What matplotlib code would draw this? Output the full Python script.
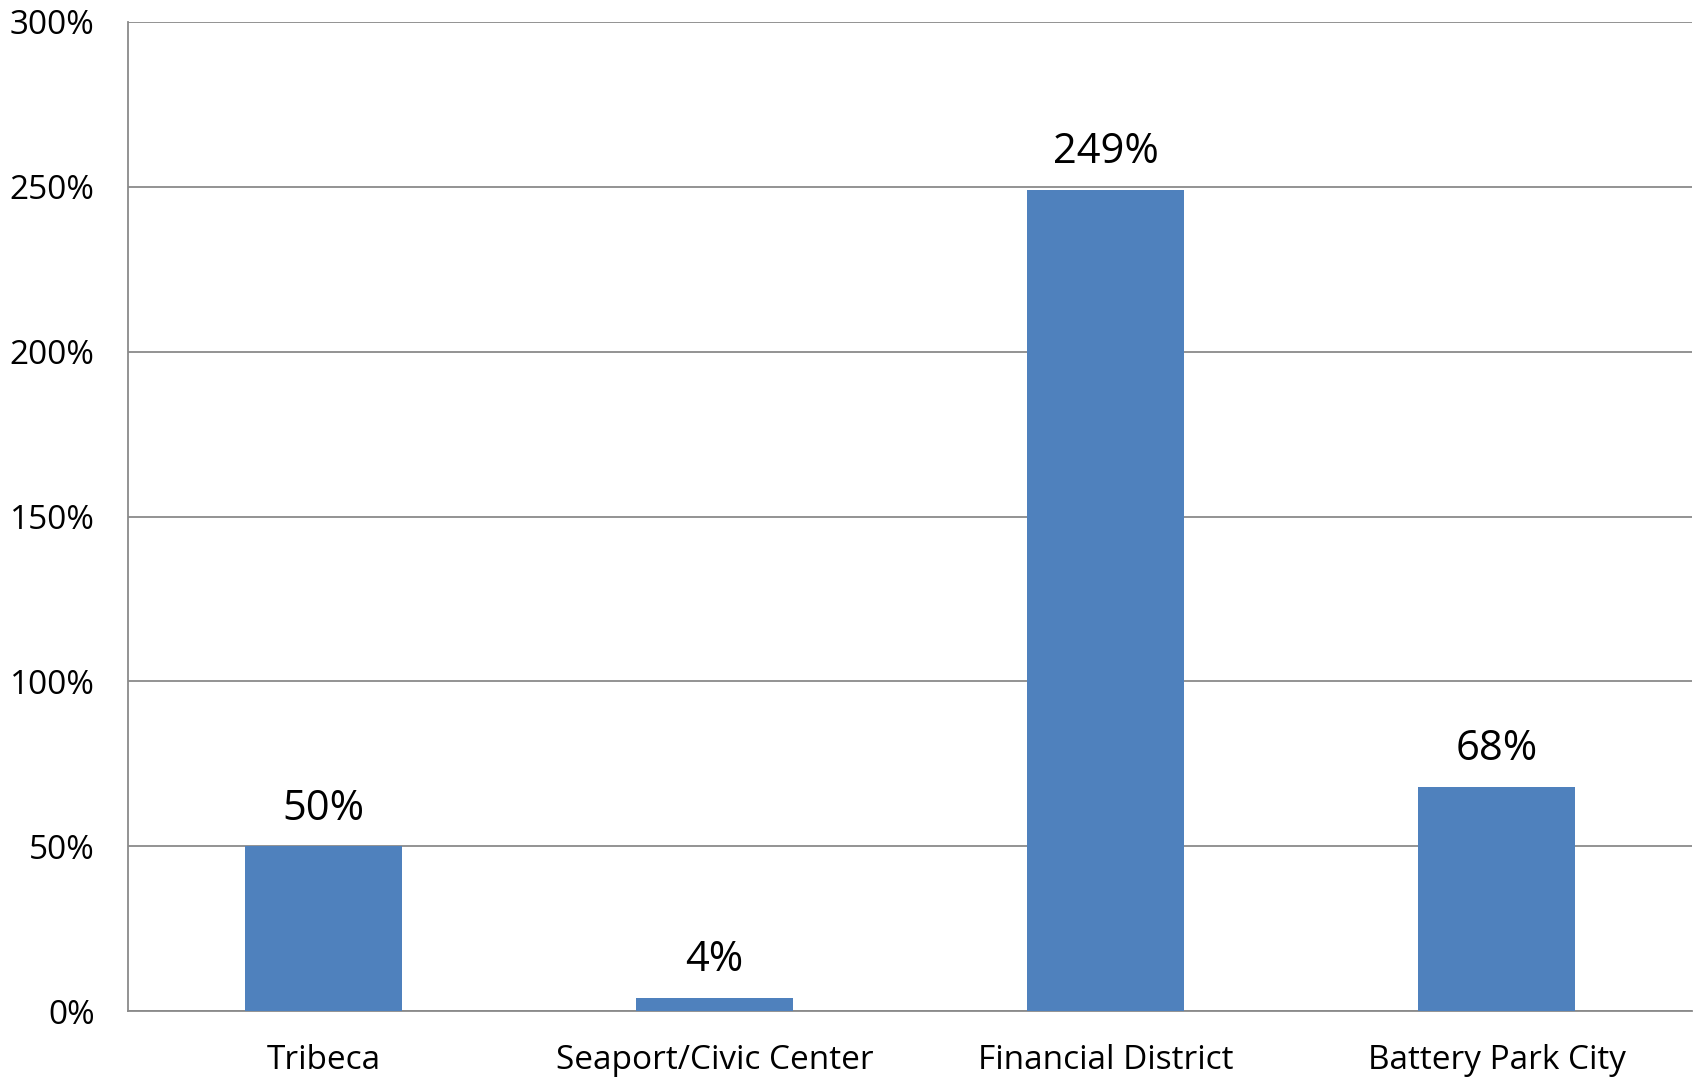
import matplotlib
matplotlib.use("Agg")
import matplotlib.pyplot as plt
from matplotlib.ticker import FuncFormatter

# datos
categorias = ["Tribeca", "Seaport/Civic Center", "Financial District", "Battery Park City"]
valores = [50, 4, 249, 68]
etiquetas = ["50%", "4%", "249%", "68%"]
ticks_y = [0, 50, 100, 150, 200, 250, 300]

plt.rcParams['font.family'] = ['Open Sans', 'DejaVu Sans']

fig = plt.figure(figsize=(16.96, 10.78), dpi=100)
ax = fig.add_axes([128 / 1696, 1 - 1011 / 1078, (1692 - 128) / 1696, (1011 - 22) / 1078])

gris = "#8a8a8a"
ax.bar(range(len(categorias)), valores, width=0.4, color="#4F81BD", zorder=3)

for i, (v, t) in enumerate(zip(valores, etiquetas)):
    ax.annotate(t, (i, v), xytext=(0, 12), textcoords="offset points",
                ha="center", va="bottom", fontsize=30, color="black")

ax.set_xlim(-0.5, len(categorias) - 0.5)
ax.set_ylim(0, 300)
ax.set_yticks(ticks_y)
ax.yaxis.set_major_formatter(FuncFormatter(lambda y, _: f"{y:.0f}%"))
ax.set_xticks(range(len(categorias)))
ax.set_xticklabels(categorias)

ax.grid(axis="y", color=gris, linewidth=1.3, zorder=0)
ax.tick_params(axis="y", length=0, pad=24, labelsize=24)
ax.tick_params(axis="x", length=0, pad=24, labelsize=24)

for lado in ["top", "right"]:
    ax.spines[lado].set_visible(False)
for lado in ["left", "bottom"]:
    ax.spines[lado].set_color(gris)
    ax.spines[lado].set_linewidth(1.3)

plt.savefig("out.png", dpi=100)
plt.close()
